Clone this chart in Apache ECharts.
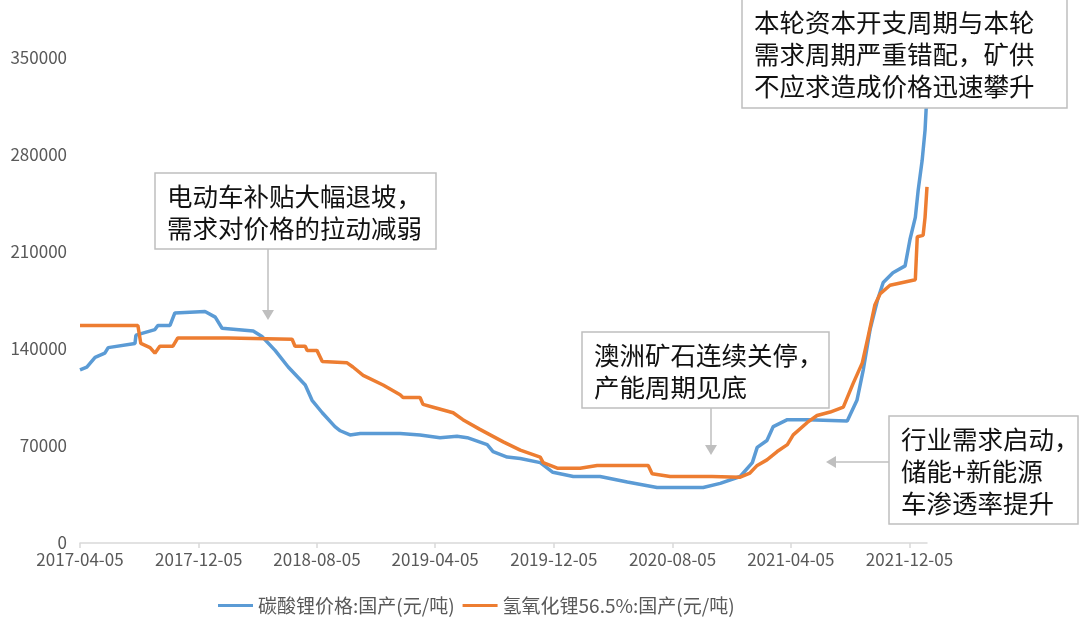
<!DOCTYPE html>
<html lang="zh-CN">
<head>
    <meta charset="utf-8" />
    <meta name="viewport" content="width=device-width,initial-scale=1.0">
    <style>
        html, body {
            margin: 0;
            padding: 0;
            background: #fff;
            overflow: hidden;
        }
        .box {
            width: 1080px;
            height: 634px;
        }
    </style>
</head>
<body>
    <div class="box"></div>
    <script src="https://cdn.jsdelivr.net/npm/echarts@6.0.0/dist/echarts.min.js"></script>
    <script>
// 横轴刻度（每8个月）
var tickLabels = ['2017-04-05', '2017-12-05', '2018-08-05', '2019-04-05',
    '2019-12-05', '2020-08-05', '2021-04-05', '2021-12-05'];

// 碳酸锂价格:国产(元/吨)
var lcDates = ['2017-04-05', '2017-04-19', '2017-05-06', '2017-05-26', '2017-06-02', '2017-07-27',
    '2017-07-29', '2017-09-06', '2017-09-12', '2017-10-07', '2017-10-17', '2017-12-18',
    '2018-01-08', '2018-01-22', '2018-03-27', '2018-04-14', '2018-05-11', '2018-06-07',
    '2018-07-12', '2018-07-26', '2018-08-16', '2018-09-11', '2018-09-22', '2018-10-12',
    '2018-11-02', '2019-01-23', '2019-03-05', '2019-04-15', '2019-05-20', '2019-06-10',
    '2019-07-21', '2019-08-02', '2019-08-31', '2019-09-27', '2019-11-07', '2019-12-03',
    '2020-01-14', '2020-03-09', '2020-05-04', '2020-07-04', '2020-10-07', '2020-11-11',
    '2020-12-22', '2021-01-16', '2021-01-26', '2021-02-15', '2021-02-28', '2021-03-29',
    '2021-05-09', '2021-07-30', '2021-08-19', '2021-09-01', '2021-09-15', '2021-09-30',
    '2021-10-12', '2021-11-01', '2021-11-26', '2021-12-06', '2021-12-17', '2021-12-23',
    '2021-12-31', '2022-01-06', '2022-01-10'];
var lcValues = [125000, 127000, 134000, 137000, 141000, 144000,
    150000, 154000, 157000, 157000, 166000, 167000,
    163000, 155000, 153000, 149000, 139000, 127000,
    114000, 103000, 94000, 84000, 81000, 78000,
    79000, 79000, 78000, 76000, 77000, 76000,
    71000, 66000, 62000, 61000, 58000, 51000,
    48000, 48000, 44000, 40000, 40000, 43000,
    48000, 58000, 69000, 74000, 84000, 89000,
    89000, 88000, 103000, 125000, 154000, 175000,
    188000, 195000, 200000, 219000, 235000, 255000,
    276000, 298000, 325000];

// 氢氧化锂56.5%:国产(元/吨)
var lhDates = ['2017-04-05', '2017-08-02', '2017-08-08', '2017-08-27', '2017-09-06', '2017-09-16',
    '2017-10-13', '2017-10-23', '2018-02-03', '2018-02-07', '2018-06-15', '2018-06-21',
    '2018-07-12', '2018-07-16', '2018-08-05', '2018-08-16', '2018-10-06', '2018-10-18',
    '2018-11-08', '2018-12-19', '2019-01-23', '2019-01-29', '2019-03-05', '2019-03-11',
    '2019-04-01', '2019-05-12', '2019-06-01', '2019-07-06', '2019-08-23', '2019-09-27',
    '2019-11-07', '2019-11-13', '2019-12-12', '2020-01-28', '2020-03-03', '2020-06-16',
    '2020-06-24', '2020-07-31', '2020-10-25', '2020-12-22', '2021-01-11', '2021-01-26',
    '2021-02-15', '2021-03-08', '2021-03-29', '2021-04-10', '2021-05-09', '2021-05-29',
    '2021-06-25', '2021-07-22', '2021-08-11', '2021-08-30', '2021-09-11', '2021-09-25',
    '2021-10-06', '2021-10-26', '2021-12-17', '2021-12-21', '2022-01-02', '2022-01-06',
    '2022-01-10'];
var lhValues = [157000, 157000, 144000, 141000, 137000, 142000,
    142000, 148000, 148000, 147000, 147000, 142000,
    142000, 139000, 139000, 131000, 130000, 127000,
    121000, 114000, 107000, 105000, 105000, 100000,
    98000, 94000, 89000, 82000, 73000, 67000,
    62000, 58000, 54000, 54000, 56000, 56000,
    50000, 48000, 48000, 47500, 50500, 56000,
    60000, 66000, 71000, 78000, 87000, 92000,
    94500, 98000, 115000, 130000, 149000, 172000,
    180000, 186000, 190000, 221000, 222000, 235000,
    257000];

(function () {
    var myChart = echarts.init(document.querySelector('.box'));

    function toTime(s) {
        var p = s.split('-');
        return new Date(+p[0], +p[1] - 1, +p[2]).getTime();
    }
    function pad(n) {
        return (n < 10 ? '0' : '') + n;
    }
    function zip(dates, values) {
        return dates.map(function (d, i) { return [toTime(d), values[i]]; });
    }

    var tickTimes = tickLabels.map(toTime);
    var cjk = '"Noto Sans CJK SC", "Noto Sans", sans-serif';
    var gray = '#595959';
    var boxLine = '#bfbfbf';

    // 文本框（盖在折线上面）
    function note(x, y, w, h, text) {
        return {
            type: 'group',
            children: [{
                type: 'rect',
                z: 100,
                shape: { x: x, y: y, width: w, height: h },
                style: { fill: '#fff', stroke: boxLine, lineWidth: 1.5 }
            }, {
                type: 'text',
                z: 101,
                x: x + 12,
                y: y + 7,
                style: {
                    text: text,
                    fill: '#111',
                    font: '25.5px ' + cjk,
                    lineHeight: 32
                }
            }]
        };
    }
    // 箭头
    function arrow(x1, y1, x2, y2, head) {
        return {
            type: 'group',
            children: [{
                type: 'line',
                z: 100,
                shape: { x1: x1, y1: y1, x2: x2, y2: y2 },
                style: { stroke: boxLine, lineWidth: 1.5 }
            }, {
                type: 'polygon',
                z: 100,
                shape: { points: head },
                style: { fill: boxLine }
            }]
        };
    }

    var option = {
        backgroundColor: '#fff',
        animation: false,
        grid: {
            left: 80,
            right: 153,
            top: 58,
            bottom: 91
        },
        legend: {
            left: 213,
            top: 591,
            icon: 'rect',
            itemWidth: 35,
            itemHeight: 3,
            itemGap: 8,
            textStyle: { color: gray, fontSize: 19, fontFamily: cjk },
            data: ['碳酸锂价格:国产(元/吨)', '氢氧化锂56.5%:国产(元/吨)']
        },
        xAxis: {
            type: 'value',
            min: toTime('2017-04-05'),
            max: toTime('2022-01-10'),
            splitLine: { show: false },
            axisLine: { lineStyle: { color: '#d9d9d9', width: 1.5 } },
            axisTick: {
                show: true,
                length: 5,
                customValues: tickTimes,
                lineStyle: { color: '#d9d9d9', width: 1.5 }
            },
            axisLabel: {
                customValues: tickTimes,
                color: gray,
                fontSize: 17,
                fontFamily: cjk,
                margin: 8,
                formatter: function (v) {
                    var d = new Date(v);
                    return d.getFullYear() + '-' + pad(d.getMonth() + 1) + '-' + pad(d.getDate());
                }
            }
        },
        yAxis: {
            type: 'value',
            min: 0,
            max: 350000,
            interval: 70000,
            splitLine: { show: false },
            axisLine: { show: false },
            axisTick: { show: false },
            axisLabel: {
                color: gray,
                fontSize: 17,
                fontFamily: cjk,
                margin: 13,
                formatter: function (v) { return String(v); }
            }
        },
        series: [{
            name: '碳酸锂价格:国产(元/吨)',
            type: 'line',
            showSymbol: false,
            symbol: 'none',
            color: '#5b9bd5',
            lineStyle: { width: 3.5, color: '#5b9bd5' },
            data: zip(lcDates, lcValues)
        }, {
            name: '氢氧化锂56.5%:国产(元/吨)',
            type: 'line',
            showSymbol: false,
            symbol: 'none',
            color: '#ed7d31',
            lineStyle: { width: 3.5, color: '#ed7d31' },
            data: zip(lhDates, lhValues)
        }],
        graphic: [
            note(155, 173, 281, 76, '电动车补贴大幅退坡，\n需求对价格的拉动减弱'),
            arrow(268, 249, 268, 312, [[262, 310], [274, 310], [268, 320]]),
            note(742, -1, 325, 109, '本轮资本开支周期与本轮\n需求周期严重错配，矿供\n不应求造成价格迅速攀升'),
            note(582, 332, 247, 76, '澳洲矿石连续关停，\n产能周期见底'),
            arrow(711, 408, 711, 447, [[705, 445], [717, 445], [711, 455]]),
            note(889, 416, 189, 108, '行业需求启动，\n储能+新能源\n车渗透率提升'),
            arrow(889, 462, 834, 462, [[836, 456], [836, 468], [826, 462]])
        ]
    };

    myChart.setOption(option);
})();
    </script>
</body>
</html>
